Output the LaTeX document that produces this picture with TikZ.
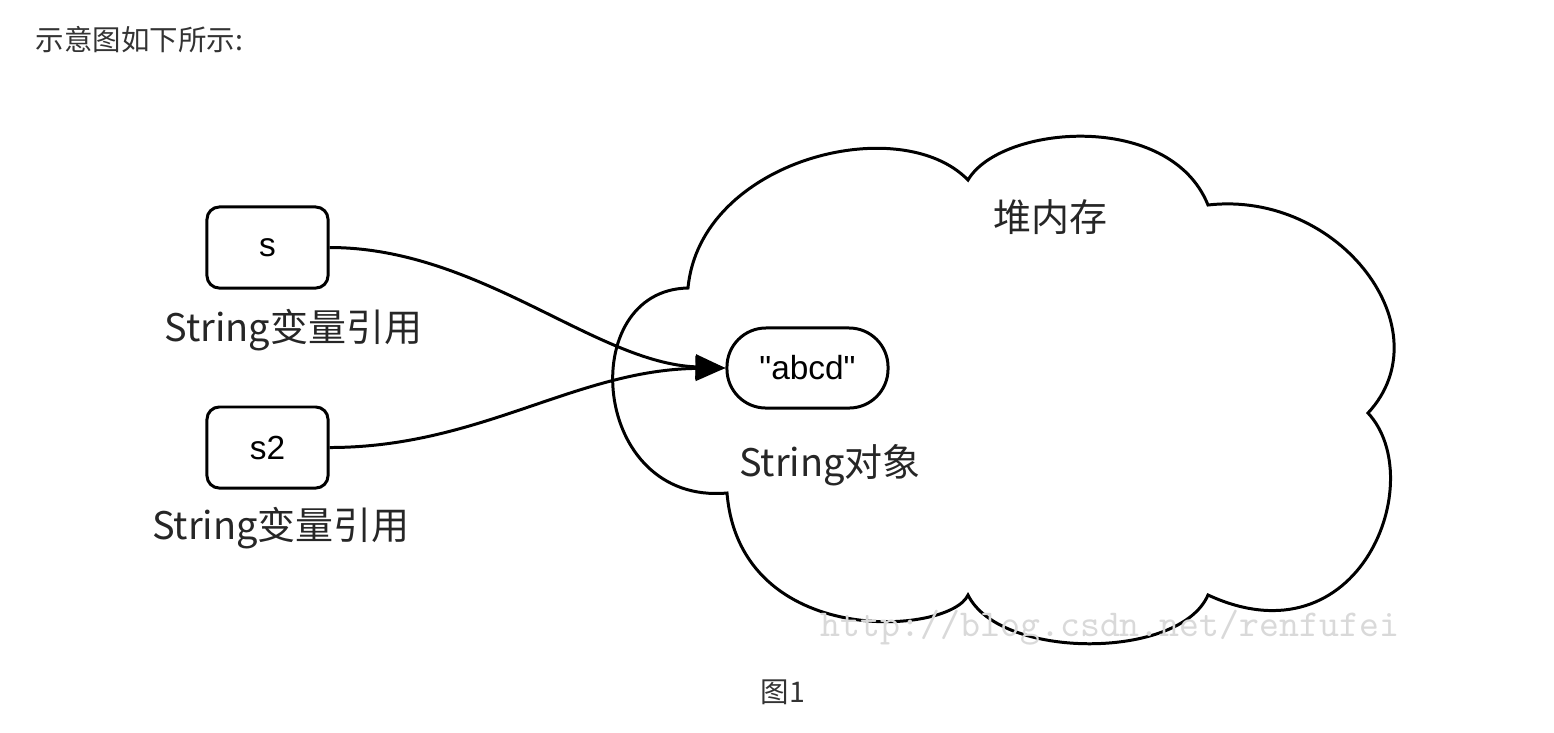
\documentclass[tikz,border=0pt]{standalone}
\usepackage{fontspec}
\setmainfont{Noto Sans CJK SC}
\newfontfamily\arialfont{Liberation Sans}
\usetikzlibrary{arrows.meta}

\begin{document}
\begin{tikzpicture}[x=0.01cm,y=-0.01cm,
  varbox/.style={draw,line width=0.85pt,rounded corners=3.5pt,minimum width=1.21cm,minimum height=0.81cm,font=\arialfont\fontsize{9.5}{11}\selectfont},
  objbox/.style={draw,line width=0.85pt,rounded corners=0.39cm,minimum width=1.61cm,minimum height=0.8cm,font=\arialfont\fontsize{9.5}{11}\selectfont},
  caption/.style={font=\fontsize{10.8}{13}\selectfont,text=black!85},
  note/.style={font=\fontsize{8.1}{10}\selectfont,text=black!80},
  ref/.style={line width=0.85pt,-{Triangle[length=8.5pt,width=7pt]}}]
 \useasboundingbox (0,0) rectangle (1554,732);

 % heap cloud
 \draw[line width=0.85pt] (688,288)
   .. controls (700,160) and (900,110) .. (968,180)
   .. controls (1000,125) and (1170,110) .. (1208,205)
   .. controls (1340,190) and (1445,330) .. (1368,413)
   .. controls (1430,480) and (1360,665) .. (1208,595)
   .. controls (1180,660) and (1000,660) .. (968,595)
   .. controls (950,635) and (740,650) .. (727,493)
   .. controls (590,505) and (575,290) .. (688,288) -- cycle;

 \node[note,anchor=west,inner sep=0pt] (Head) at (35,40) {示意图如下所示:};

 \node[varbox] (S) at (267.5,247.5) {s};
 \node[varbox] (S2) at (267.5,447.5) {s2};
 \node[objbox] (Abcd) at (807.5,368) {"abcd"};

 \node[caption] (SRef) at (293.5,330) {String变量引用};
 \node[caption] (S2Ref) at (281,528) {String变量引用};
 \node[caption] (Obj) at (830,465) {String对象};
 \node[caption] (Heap) at (1050,217) {堆内存};

 \draw[ref] (S.east) .. controls +(150,0) and +(-130,-5) .. (Abcd.west);
 \draw[ref] (S2.east) .. controls +(150,0) and +(-150,2) .. (Abcd.west);

 \node[font=\ttfamily\fontsize{10.8}{12}\selectfont,text=black!15] (Mark) at (1110,628) {http://blog.csdn.net/renfufei};
 \node[note] (Fig) at (783,692) {图1};
\end{tikzpicture}
\end{document}
